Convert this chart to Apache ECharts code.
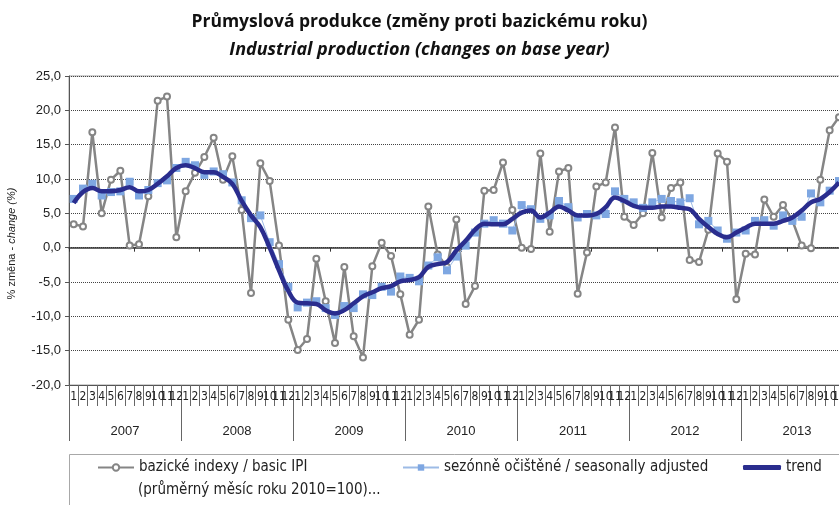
<!DOCTYPE html>
<html>
<head>
<meta charset="utf-8">
<script src="https://cdn.jsdelivr.net/npm/echarts@6/dist/echarts.min.js"></script>
<style>
html, body { margin: 0; padding: 0; background: #fff; }
#chart { width: 839px; height: 505px; }
</style>
</head>
<body>
<div id="chart"></div>
<script>
// categories
var years = ['2007', '2008', '2009', '2010', '2011', '2012', '2013'];
var monthLabels = ['1', '2', '3', '4', '5', '6', '7', '8', '9', '10', '11', '12'];

// bazické indexy / basic IPI (1/2007 .. 11/2013)
var basicIPI = [
    3.4, 3.1, 16.8, 5.0, 9.9, 11.2, 0.3, 0.5, 7.5, 21.4, 22.0, 1.5,
    8.2, 10.9, 13.2, 16.0, 9.9, 13.3, 5.5, -6.6, 12.3, 9.7, 0.3, -10.5,
    -14.9, -13.3, -1.6, -7.8, -13.9, -2.8, -12.9, -16.0, -2.7, 0.7, -1.2, -6.8,
    -12.7, -10.5, 6.0, -1.0, -2.8, 4.1, -8.2, -5.6, 8.3, 8.4, 12.4, 5.5,
    0.0, -0.2, 13.7, 2.3, 11.1, 11.6, -6.7, -0.7, 8.9, 9.5, 17.5, 4.5,
    3.3, 5.0, 13.8, 4.4, 8.7, 9.5, -1.8, -2.1, 2.6, 13.7, 12.5, -7.5,
    -0.9, -1.0, 7.0, 4.5, 6.2, 4.0, 0.3, -0.1, 9.9, 17.1, 19.0
];

// sezónně očištěné / seasonally adjusted
var seasonAdj = [
    7.1, 8.6, 9.3, 7.6, 8.1, 8.2, 9.6, 7.6, 8.4, 9.4, 9.8, 11.6,
    12.5, 12.0, 10.6, 11.1, 10.7, 9.5, 6.9, 4.3, 4.7, 0.8, -2.4, -5.7,
    -8.7, -8.0, -7.8, -8.8, -9.8, -8.5, -8.8, -6.8, -6.9, -5.7, -6.4, -4.2,
    -4.4, -4.9, -2.6, -1.4, -3.3, -1.3, 0.3, 2.2, 3.5, 4.0, 3.5, 2.5,
    6.2, 5.6, 4.2, 4.7, 6.8, 5.9, 4.4, 4.9, 4.7, 4.9, 8.2, 7.1,
    6.6, 5.8, 6.6, 7.1, 6.8, 6.6, 7.2, 3.4, 3.9, 2.5, 1.3, 2.2,
    2.5, 3.9, 4.0, 3.2, 4.7, 3.9, 4.5, 7.9, 6.6, 8.3, 9.7
];

// trend
var trend = [
    6.5, 8.1, 8.7, 8.2, 8.2, 8.4, 8.8, 8.2, 8.4, 9.3, 10.4, 11.6,
    12.0, 11.6, 11.0, 11.0, 10.3, 9.3, 6.8, 4.7, 3.0, 0.0, -3.3, -6.3,
    -8.0, -8.1, -8.2, -9.1, -9.6, -9.1, -8.1, -7.1, -6.5, -5.9, -5.6, -4.9,
    -4.7, -4.3, -2.8, -2.4, -2.1, -0.4, 1.0, 2.6, 3.5, 3.4, 3.4, 4.2,
    5.1, 5.4, 4.4, 5.1, 6.0, 5.4, 4.7, 4.7, 4.9, 5.9, 7.3, 6.8,
    6.1, 5.8, 5.8, 6.0, 6.0, 5.8, 5.6, 4.2, 3.0, 2.0, 1.5, 2.2,
    2.9, 3.5, 3.5, 3.5, 3.9, 4.4, 5.4, 6.6, 7.1, 8.1, 9.5
];

var monthKeys = [];
var monthNums = [];
years.forEach(function (y) {
    monthLabels.forEach(function (m) {
        monthKeys.push(y + '-' + m);
        monthNums.push(m);
    });
});

var narrow = "'Liberation Sans Narrow', 'DejaVu Sans Condensed', sans-serif";
var sans = "'Liberation Sans', Arial, sans-serif";
var titleFont = "'Open Sans', 'Liberation Sans', sans-serif";

var myChart = echarts.init(document.getElementById('chart'));
myChart.setOption({
    animation: false,
    backgroundColor: '#fff',
    title: [
        {
            text: 'Průmyslová produkce (změny proti bazickému roku)',
            left: 'center',
            top: 8,
            textStyle: { fontFamily: titleFont, fontWeight: 'bold', fontSize: 17.5, color: '#111' }
        },
        {
            text: 'Industrial production (changes on base year)',
            left: 'center',
            top: 36,
            textStyle: { fontFamily: titleFont, fontWeight: 'bold', fontStyle: 'italic', fontSize: 18, color: '#111' }
        }
    ],
    grid: {
        left: 69,
        top: 76,
        width: 784,
        height: 309,
        outerBoundsMode: 'none',
        containLabel: false,
        show: true,
        borderColor: '#a0a0a0',
        borderWidth: 1
    },
    legend: [
        {
            data: ['bazické indexy / basic IPI'],
            left: 92,
            top: 455,
            itemWidth: 36,
            itemHeight: 8,
            textStyle: { fontFamily: narrow, fontSize: 15, color: '#222' }
        },
        {
            data: ['sezónně očištěné / seasonally adjusted'],
            left: 397,
            top: 455,
            itemWidth: 36,
            itemHeight: 8,
            textStyle: { fontFamily: narrow, fontSize: 15, color: '#222' }
        },
        {
            data: [{ name: 'trend', icon: 'roundRect' }],
            left: 738,
            top: 455,
            itemWidth: 38,
            itemHeight: 5,
            textStyle: { fontFamily: narrow, fontSize: 15, color: '#222' }
        }
    ],
    graphic: [
        {
            type: 'rect',
            shape: { x: 69.5, y: 454.5, width: 800, height: 80 },
            style: { fill: 'none', stroke: '#a8a8a8', lineWidth: 1 },
            silent: true
        },
        {
            type: 'text',
            left: 138,
            top: 483,
            style: { text: '(průměrný měsíc roku 2010=100)...', fontFamily: narrow, fontSize: 15, fill: '#222' }
        }
    ],
    xAxis: [
        {
            type: 'category',
            data: monthKeys,
            position: 'bottom',
            axisLine: { onZero: true, lineStyle: { color: '#333', width: 1.5 } },
            axisTick: { show: true, length: 4, lineStyle: { color: '#333' } },
            axisLabel: { show: false },
            splitLine: { show: false }
        },
        {
            type: 'category',
            data: monthNums,
            position: 'bottom',
            axisLine: { onZero: false, lineStyle: { color: '#555', width: 1 } },
            axisTick: { show: true, length: 21, lineStyle: { color: '#666' } },
            axisLabel: { interval: 0, margin: 6, fontFamily: narrow, fontSize: 12, color: '#222' },
            splitLine: { show: false }
        },
        {
            type: 'category',
            data: years,
            position: 'bottom',
            axisLine: { onZero: false, show: false },
            axisTick: { show: true, length: 56, lineStyle: { color: '#666' } },
            axisLabel: { margin: 40, fontFamily: sans, fontSize: 13, color: '#222' },
            splitLine: { show: false }
        }
    ],
    yAxis: {
        type: 'value',
        min: -20,
        max: 25,
        interval: 5,
        name: '{a|% změna - }{b|change (%)}',
        nameLocation: 'middle',
        nameRotate: 90,
        nameGap: 52,
        nameTextStyle: {
            padding: [0, 26, 0, 0],
            rich: {
                a: { fontFamily: sans, fontSize: 11, color: '#222' },
                b: { fontFamily: sans, fontSize: 11, fontStyle: 'italic', color: '#222' }
            }
        },
        axisLine: { show: true, lineStyle: { color: '#555' } },
        axisTick: { show: true, length: 4, lineStyle: { color: '#555' } },
        axisLabel: {
            margin: 8,
            fontFamily: sans,
            fontSize: 13,
            color: '#222',
            formatter: function (v) { return v.toFixed(1).replace('.', ','); }
        },
        splitLine: { lineStyle: { type: 'dotted', color: '#444', width: 1 } }
    },
    series: [
        {
            name: 'bazické indexy / basic IPI',
            type: 'line',
            data: basicIPI,
            symbol: 'emptyCircle',
            symbolSize: 6,
            showAllSymbol: true,
            lineStyle: { color: '#858585', width: 2.5 },
            itemStyle: { color: '#858585', borderWidth: 1.5 },
            z: 2
        },
        {
            name: 'sezónně očištěné / seasonally adjusted',
            type: 'line',
            data: seasonAdj,
            symbol: 'rect',
            symbolSize: 8,
            showAllSymbol: true,
            lineStyle: { color: '#9dbbe6', width: 1 },
            itemStyle: { color: '#7ea7e2' },
            z: 3
        },
        {
            name: 'trend',
            type: 'line',
            data: trend,
            symbol: 'none',
            smooth: 0.4,
            lineStyle: { color: '#2a2d8e', width: 4.5 },
            itemStyle: { color: '#2a2d8e' },
            z: 4
        }
    ]
});
</script>
</body>
</html>
